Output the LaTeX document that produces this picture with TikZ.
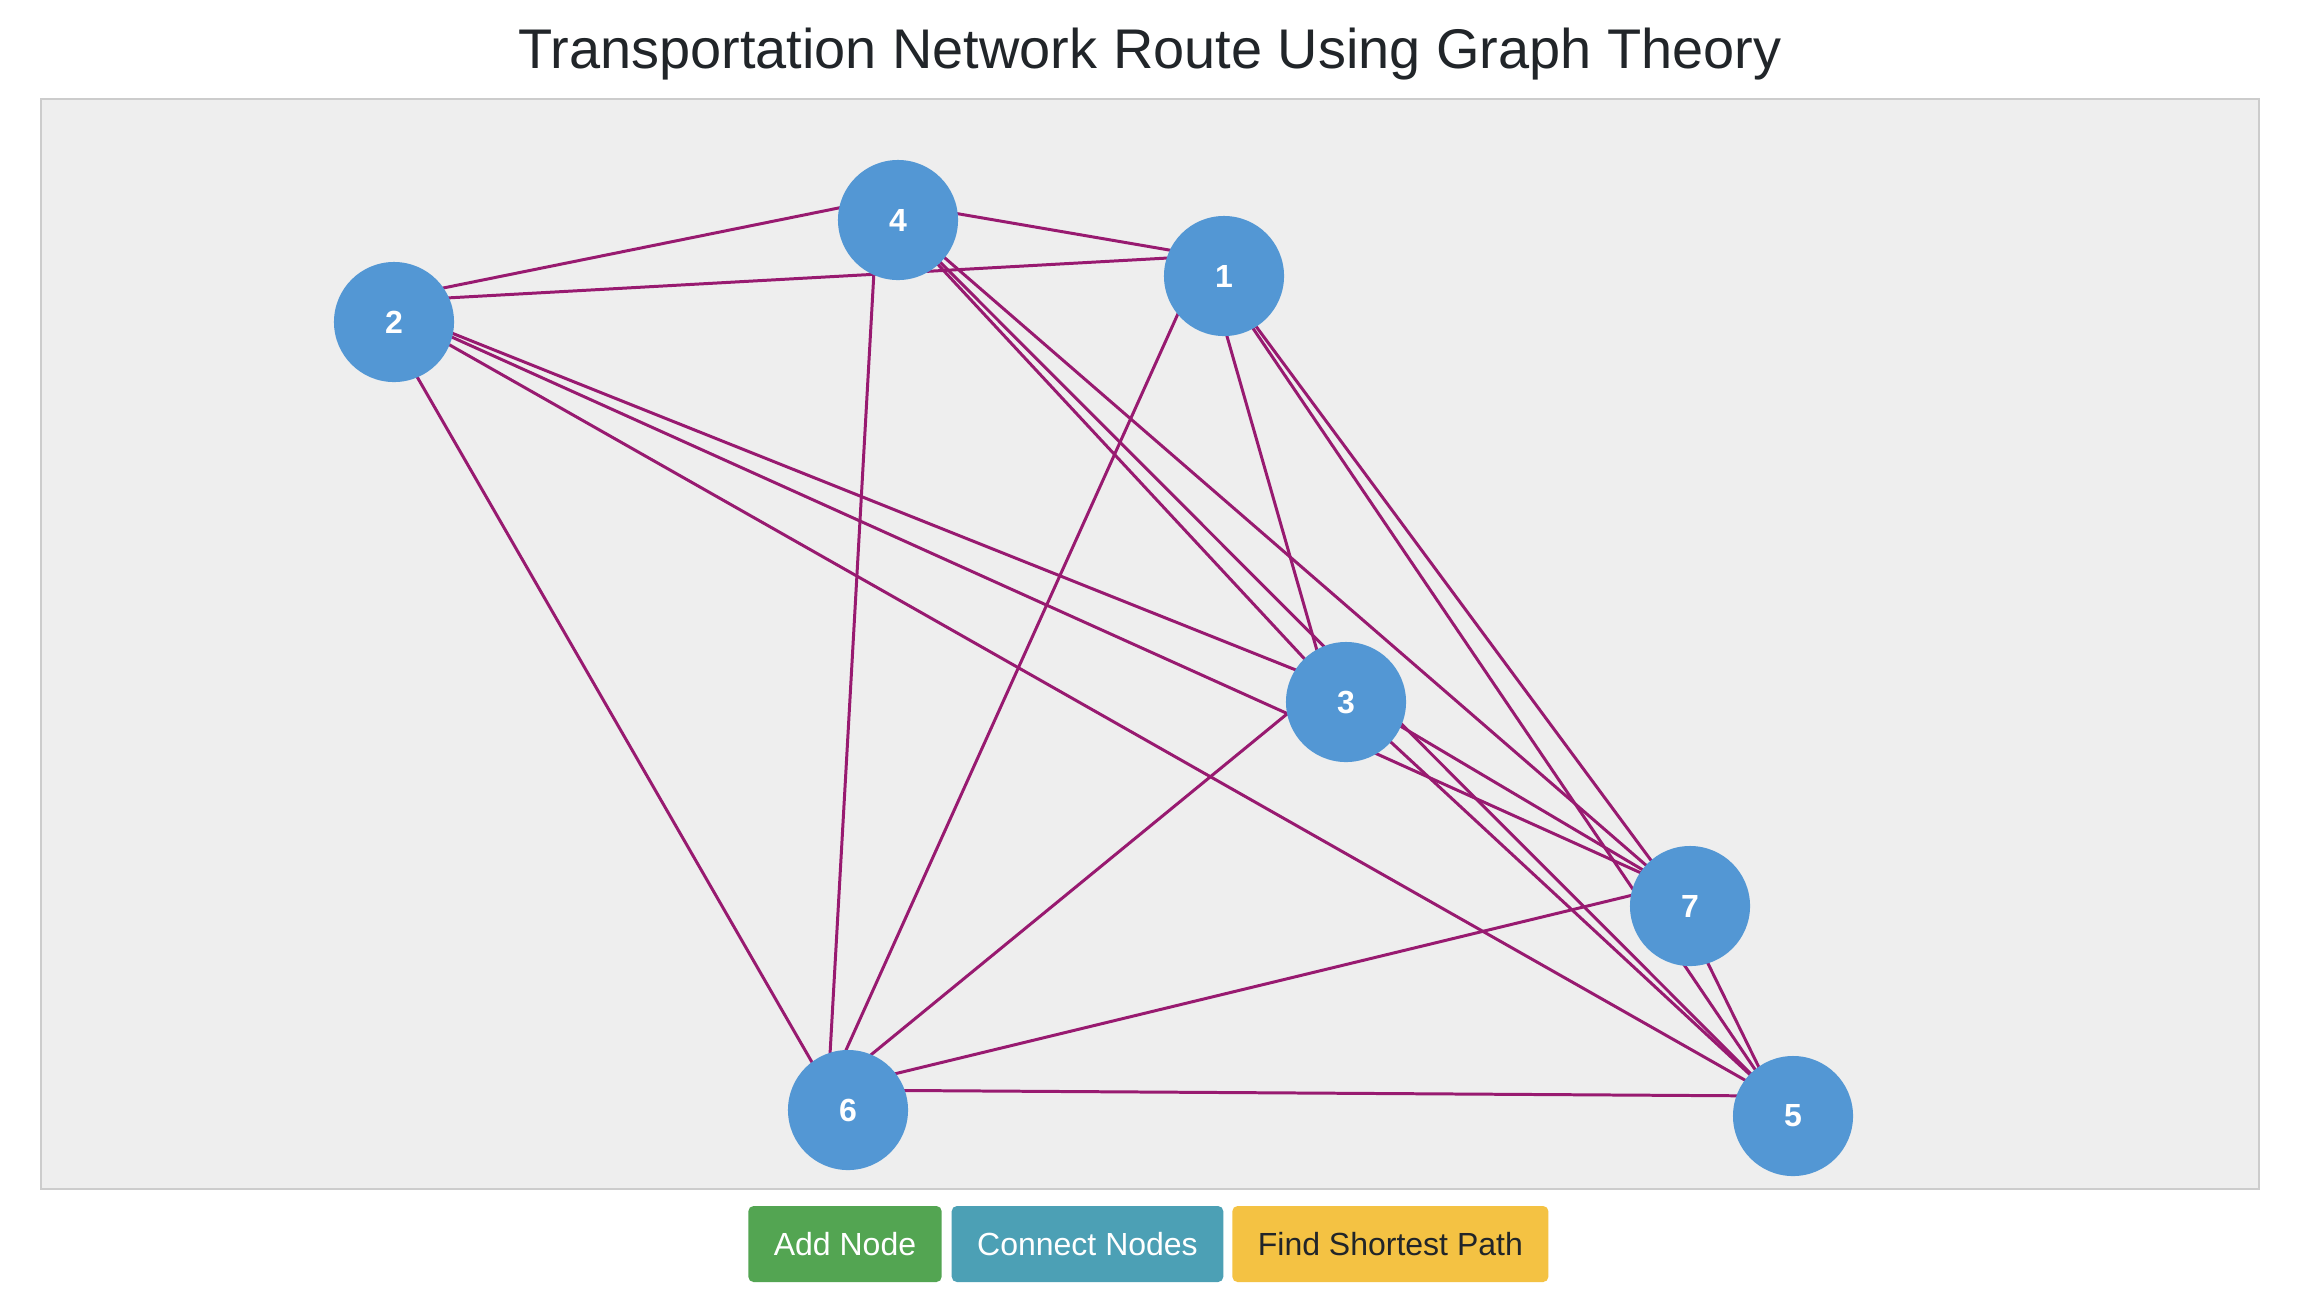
\documentclass[tikz,border=0pt]{standalone}
\usepackage{fontspec}
\setmainfont{Liberation Sans}
\usepackage{xcolor}
\usepackage{tikz}
\usetikzlibrary{positioning, calc, backgrounds}
\definecolor{panelgray}{RGB}{238, 238, 238}
\definecolor{panelborder}{RGB}{204, 204, 204}
\definecolor{stationblue}{RGB}{83, 151, 212}
\definecolor{routepurple}{RGB}{152, 26, 112}
\definecolor{titlegray}{RGB}{33, 37, 41}
\definecolor{addgreen}{RGB}{83, 165, 82}
\definecolor{connectteal}{RGB}{76, 160, 181}
\definecolor{pathyellow}{RGB}{244, 194, 67}

\begin{document}
\begin{tikzpicture}[
    x=0.01cm, y=-0.01cm,
    every node/.style={font=\fontsize{9.1pt}{11pt}\selectfont},
    station/.style={circle, fill=stationblue, minimum size=1.2cm, inner sep=0pt, text=white, font=\fontsize{9.1pt}{11pt}\selectfont\bfseries},
    route/.style={routepurple, line width=0.85pt},
    button/.style={rectangle, rounded corners=1.5pt, minimum height=0.76cm, inner xsep=0.255cm, outer sep=0pt, text=white}
]
    \useasboundingbox (0,0) rectangle (2318,1308);

    % Title
    \node (title) [anchor=base, text=titlegray, font=\fontsize{15.9pt}{19pt}\selectfont] at (1150,68) {Transportation Network Route Using Graph Theory};

    % Stations
    \node (n1) [station] at (1224,276) {1};
    \node (n2) [station] at (394,322) {2};
    \node (n3) [station] at (1346,702) {3};
    \node (n4) [station] at (898,220) {4};
    \node (n5) [station] at (1793,1116) {5};
    \node (n6) [station] at (848,1110) {6};
    \node (n7) [station] at (1690,906) {7};

    % Link ends (drawn a little up-left of each station)
    \coordinate (l1) at ($(n1)+(-20,-20)$);
    \coordinate (l2) at ($(n2)+(-20,-20)$);
    \coordinate (l3) at ($(n3)+(-20,-20)$);
    \coordinate (l4) at ($(n4)+(-20,-20)$);
    \coordinate (l5) at ($(n5)+(-20,-20)$);
    \coordinate (l6) at ($(n6)+(-20,-20)$);
    \coordinate (l7) at ($(n7)+(-20,-20)$);

    % Panel and routes
    \begin{scope}[on background layer]
        \fill [white] (0,0) rectangle (2318,1308);
        \draw [panelborder, fill=panelgray, line width=0.02cm] (41,99) rectangle (2259,1189);
        \draw [route] (l1) -- (l2);
        \draw [route] (l1) -- (l3);
        \draw [route] (l1) -- (l4);
        \draw [route] (l1) -- (l5);
        \draw [route] (l1) -- (l6);
        \draw [route] (l1) -- (l7);
        \draw [route] (l2) -- (l3);
        \draw [route] (l2) -- (l4);
        \draw [route] (l2) -- (l5);
        \draw [route] (l2) -- (l6);
        \draw [route] (l2) -- (l7);
        \draw [route] (l3) -- (l4);
        \draw [route] (l3) -- (l5);
        \draw [route] (l3) -- (l6);
        \draw [route] (l3) -- (l7);
        \draw [route] (l4) -- (l5);
        \draw [route] (l4) -- (l6);
        \draw [route] (l4) -- (l7);
        \draw [route] (l5) -- (l6);
        \draw [route] (l5) -- (l7);
        \draw [route] (l6) -- (l7);
    \end{scope}

    % Buttons
    \node (addbtn) [button, fill=addgreen] at (845,1244) {Add Node};
    \node (connectbtn) [button, fill=connectteal, right=0.1cm of addbtn] {Connect Nodes};
    \node (pathbtn) [button, fill=pathyellow, text=titlegray, right=0.09cm of connectbtn] {Find Shortest Path};
\end{tikzpicture}
\end{document}
